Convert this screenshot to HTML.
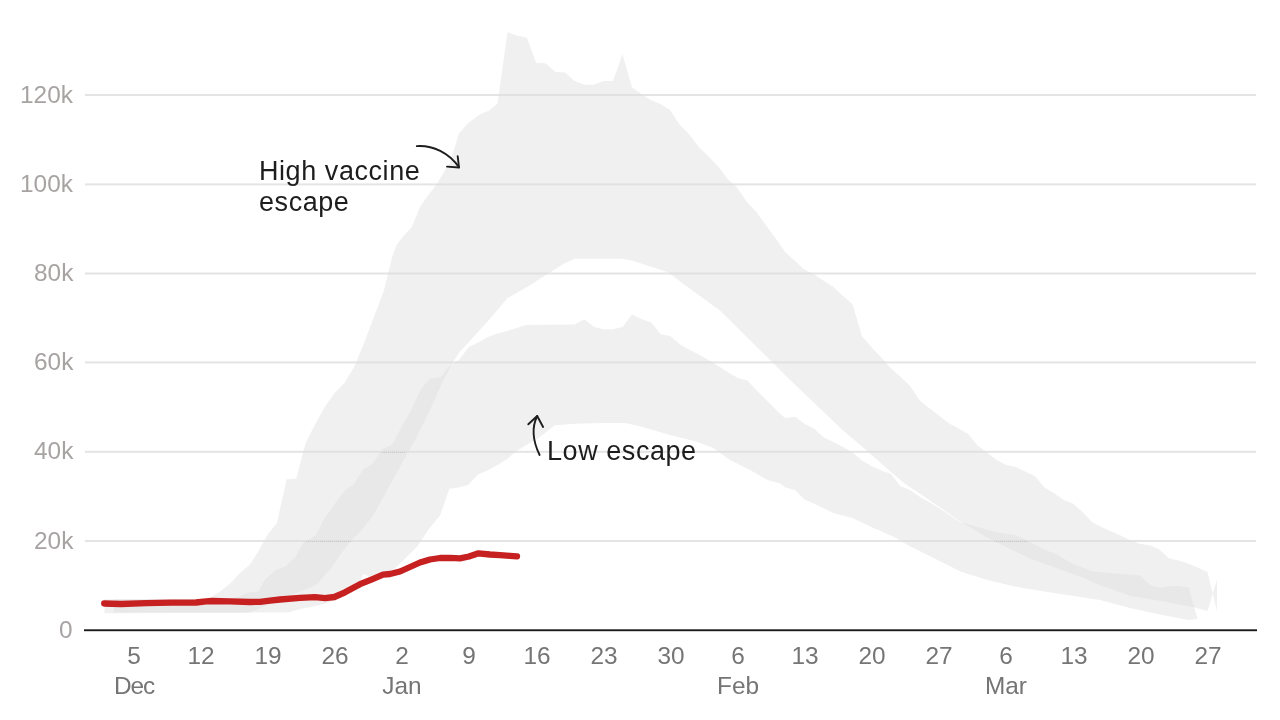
<!DOCTYPE html>
<html><head><meta charset="utf-8"><title>chart</title>
<style>
html,body{margin:0;padding:0;background:#fff;}
body{width:1280px;height:720px;position:relative;overflow:hidden;font-family:"Liberation Sans",sans-serif;}
  .yl{position:absolute;right:1207px;font-size:24.4px;line-height:24px;color:#a8a3a3;white-space:nowrap;}
.xl{position:absolute;width:80px;margin-left:-40px;text-align:center;font-size:24.4px;line-height:24px;color:#757575;white-space:nowrap;}
.yl,.xl,.an{will-change:transform;}
.an{position:absolute;font-size:27px;line-height:31.3px;color:#1d1d1d;white-space:nowrap;letter-spacing:0.56px;}
</style></head><body>
<svg width="1280" height="720" viewBox="0 0 1280 720" style="position:absolute;left:0;top:0">
<rect x="85" y="94" width="1171" height="2" fill="#e4e4e4"/>
<rect x="85" y="183.4" width="1171" height="2" fill="#e4e4e4"/>
<rect x="85" y="272.5" width="1171" height="2" fill="#e4e4e4"/>
<rect x="85" y="361.4" width="1171" height="2" fill="#e4e4e4"/>
<rect x="85" y="450.8" width="1171" height="2" fill="#e4e4e4"/>
<rect x="85" y="540" width="1171" height="2" fill="#e4e4e4"/>
<polygon points="104.5,599.2 205,599.2 210,598.3 213.5,595.5 220.3,591.5 225,587.5 231.25,582.5 237.5,575.5 240.6,572.4 250,564.5 258.5,551 268,534 276.9,523.3 286.6,479.2 296.2,478.75 305.6,443.1 315.2,424.3 324.8,407 334.4,393.3 344,383.6 353.5,368 355,365 363.75,343.75 373.75,317.5 383.75,291.25 388.6,271.5 392.5,256 396.4,245.3 402.2,237.5 412,226.8 419.7,207.4 423.6,201.5 437.2,183.5 446,168.5 450,163 458.75,133.75 467.5,123.75 478.75,115 488.75,110.75 497.5,103.75 507.5,32 517.5,35.75 526.75,37.5 536.25,63 545.5,63.25 555.5,72 565,72.5 574.25,80.75 584.25,84.75 593.75,84.75 603.75,81 613,81 622.5,54.25 632,87.5 641.25,93.75 650.75,100 660,103.75 670,110 679.5,124.5 689.25,134.25 698.75,147 708.25,156.25 718,166.25 727.5,178.75 737,187.5 746.75,201.75 756.25,211.75 765.75,225 775.5,238.25 785,251.75 794.5,260.5 804.25,269.5 813.75,274.25 823.25,280.5 833,286.75 842.5,295.5 852.5,304.25 862,336.25 871.75,347.5 881.25,357.5 890.75,368 900.5,376.75 910,385.75 920,400.75 929.5,408.25 939.25,415.75 948.75,423.25 958.25,428.25 968,433.75 977.5,445.5 987,452.5 996.75,460 1006.25,465 1015.75,467 1025.5,471.75 1035,476.25 1044.5,487.5 1054.25,493.25 1063.75,500 1073.25,503.75 1083,512.5 1092.5,522.5 1101.25,526.75 1110.75,531.25 1120.75,535.5 1130,540 1139.5,543.75 1149.25,545.3 1158.75,549 1168.75,558.2 1178.25,560.5 1188,563.6 1197.5,567.4 1207.5,572 1217,611.25 1217,579.4 1207.5,611 1193.75,607.25 1175,603.75 1158.75,600.6 1130.6,595.9 1112.5,589.4 1100,585.6 1085,578.5 1055,567.5 1030,558.5 1005,546.5 985,536.5 960,521.25 940,507.5 920,493.75 905,483.75 890,471.25 867.5,451.25 842.5,430 812.5,401.25 790,380 770,360 720,310.5 690,288.75 667.5,272 632.5,260.75 622.5,258.75 574.5,258.75 563.75,263.75 545,275.5 532.5,283.75 520,291 507.5,298 497.5,310 488,321 477,333 468,343 460,351.5 453,362 442.5,382 440,387.5 430,410 415,440 404.5,458.5 400,466.9 391.9,481.25 382.5,498.75 372.5,516.25 361.9,530 350,542 340,555 333,565.5 325,575 317,584.3 309.4,588 300,591.5 290,595.5 280,599.5 268,604.5 258,609 249,612.8 104.5,613.3" fill="#dddddd" fill-opacity="0.45"/>
<polygon points="113.8,599.2 232,599.2 239,596.5 248,592.5 258.5,591.6 265.3,579.3 275.5,570.3 285.5,566.6 295.3,557.3 303,543.3 315.6,535.5 325,517.5 335,503.75 344.4,490.8 353.75,484.2 363.1,469.6 372.7,463.75 382.5,448.9 392,445 402.5,425 411.25,410 421.25,388.75 430,378.5 440.5,377.5 449.6,366 459.3,359.5 468.8,347 478.4,342.5 488,337 497.5,333.5 507.5,331 526.25,325 574.5,324.5 584.25,319.25 593.75,326.75 603.25,329.25 613,329.25 622.5,327 632,314.5 641.75,319.25 651.25,322.5 660.75,334.25 670.5,336.25 680,344.5 690,350 699.5,355 709.25,360.5 718.75,366.25 728.25,372.5 738,378 747.5,380.5 757,390.75 766.25,400 770,403.75 780,413.75 785.5,418.25 795,416.75 804.5,423.75 814.25,428.75 823.75,437.5 833.25,442 843,447 852.5,452.5 862,460.5 871.75,466.25 881.25,470.5 890.75,473.75 900.5,486.25 910,490 920,497 930,502.5 940,508.75 960,522 977.5,527 997.5,532.5 1015,535 1026.25,540 1045,550 1055,553.5 1072.5,563.75 1091.75,571.25 1100,572.25 1121.25,574 1140,575.6 1150,585 1160,587.75 1170,586.25 1178.75,585.9 1188.75,587.75 1197.5,619 1188.75,620 1160,614.5 1130,608 1100,600 1072.5,595.75 1042.5,591.25 1013.75,586.25 987.5,580 971.25,575 960,571.25 937.5,560 910,546.25 892.5,536.25 872.5,527.5 852.5,518 833.75,513.25 814.25,503.75 804.5,499.5 795,490 785.5,487.5 780,483.5 767.5,480 750,470 730,460 712.5,447.5 695,441.25 670,435 640,426.25 625,423 600,423 575,423.75 555,425.3 546.7,431.7 538.3,438.3 526.5,445 516.9,450.8 506.9,459.3 497.5,465 487.5,470.6 478.1,474.4 468.1,485 458.75,487.5 449.4,488.75 440,515.6 428.5,529.5 417.5,546.25 407.5,556.25 400,563.5 394,569.3 382.3,574.5 372.7,578 363.1,574 359.5,583 353.5,589 344,595.5 334.4,600.5 325,603.8 310,607.2 300,609 288,612.6 113.8,612.6" fill="#dddddd" fill-opacity="0.45"/>
<g stroke="#c8c8c8" stroke-width="1" stroke-dasharray="1 1" fill="none"><path d="M306 541.5H351"/><path d="M382 452.5H405"/><path d="M994 541.5H1027"/></g>
<rect x="84" y="629.3" width="1173" height="1.9" fill="#1a1a1a"/>
<polyline points="104.2,603.5 121,604 146,603.2 171,602.7 196,602.5 206,601.4 212,601 230,601.3 250,602 260,601.8 270,600.7 280,599.5 300,597.9 315,597.1 325,598.1 334.4,597 345,592.3 360,584.2 372,579.3 383,574.6 390,574 400,571.5 410,567 420,562.5 430,559.5 440,558 450,557.8 460,558.3 469,556.5 478.5,553.3 490,554.5 500,555.2 510,555.8 517,556.3" fill="none" stroke="#c62020" stroke-width="6.3" stroke-linecap="round" stroke-linejoin="round"/>
<g fill="none" stroke="#1d1d1d" stroke-width="1.9" stroke-linecap="round" stroke-linejoin="round">
<path d="M416.8 146.1 C433 145 449 153 459 167.3"/>
<path d="M457.7 156.3 L459 167.5 L447 166.6"/>
<path d="M539.6 455 Q528.9 433 537.2 416"/>
<path d="M528.3 424.3 L537.2 416 L543.1 427"/>
</g>
</svg>
<div class="yl" style="top:82.5px">120k</div>
<div class="yl" style="top:171.9px">100k</div>
<div class="yl" style="top:261px">80k</div>
<div class="yl" style="top:349.9px">60k</div>
<div class="yl" style="top:439.3px">40k</div>
<div class="yl" style="top:528.5px">20k</div>
<div class="yl" style="top:617.7px">0</div>
<div class="xl" style="left:133.8px;top:643.5px">5</div>
<div class="xl" style="left:200.9px;top:643.5px">12</div>
<div class="xl" style="left:268px;top:643.5px">19</div>
<div class="xl" style="left:335.2px;top:643.5px">26</div>
<div class="xl" style="left:402.3px;top:643.5px">2</div>
<div class="xl" style="left:469.4px;top:643.5px">9</div>
<div class="xl" style="left:536.5px;top:643.5px">16</div>
<div class="xl" style="left:603.7px;top:643.5px">23</div>
<div class="xl" style="left:670.8px;top:643.5px">30</div>
<div class="xl" style="left:737.9px;top:643.5px">6</div>
<div class="xl" style="left:805px;top:643.5px">13</div>
<div class="xl" style="left:872.2px;top:643.5px">20</div>
<div class="xl" style="left:939.3px;top:643.5px">27</div>
<div class="xl" style="left:1006.4px;top:643.5px">6</div>
<div class="xl" style="left:1073.5px;top:643.5px">13</div>
<div class="xl" style="left:1140.6px;top:643.5px">20</div>
<div class="xl" style="left:1207.8px;top:643.5px">27</div>
<div class="xl" style="left:134.4px;top:673.5px;letter-spacing:-1.2px">Dec</div>
<div class="xl" style="left:402.3px;top:673.5px">Jan</div>
<div class="xl" style="left:737.9px;top:673.5px">Feb</div>
<div class="xl" style="left:1006.4px;top:673.5px">Mar</div>
<div class="an" style="left:259.2px;top:155.6px">High vaccine<br>escape</div>
<div class="an" style="left:547.3px;top:436px">Low escape</div>
</body></html>
